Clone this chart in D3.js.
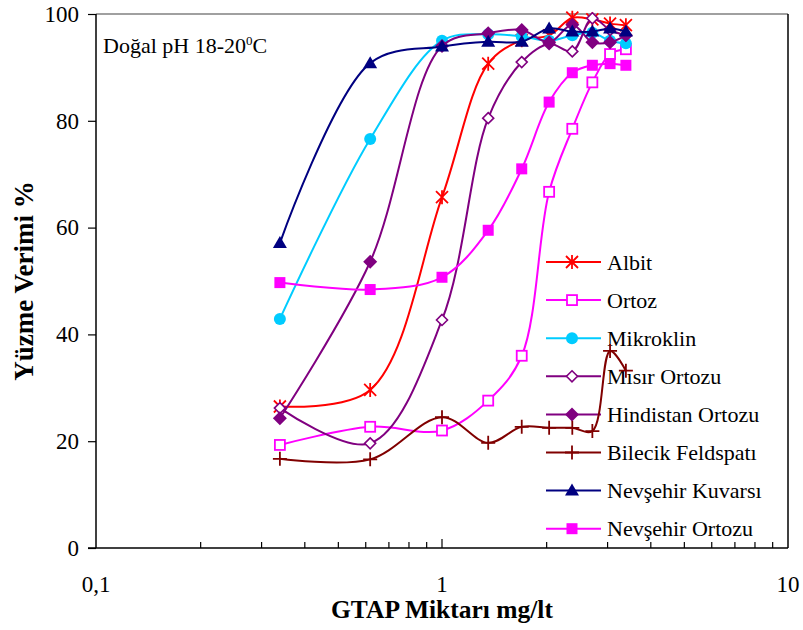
<!DOCTYPE html>
<html><head><meta charset="utf-8">
<script src="https://cdn.jsdelivr.net/npm/d3@7"></script>
<style>body{margin:0;background:#fff}svg{display:block}</style>
</head><body>
<script>
const xValues = [0.34, 0.62, 1.0, 1.36, 1.7, 2.04, 2.38, 2.72, 3.06, 3.4];
const albit = [26.5, 29.6, 65.7, 90.7, 95.1, 96.0, 99.3, 99.0, 98.2, 97.9];
const ortoz = [19.3, 22.7, 22.0, 27.6, 36.0, 66.7, 78.5, 87.2, 92.5, 93.4];
const mikroklin = [42.9, 76.6, 95.0, 96.2, 95.8, 95.0, 96.0, 96.5, 95.0, 94.5];
const misirOrtozu = [26.2, 19.6, 42.7, 80.5, 91.0, 94.4, 93.0, 99.2, 97.0, 96.0];
const hindistanOrtozu = [24.3, 53.6, 94.0, 96.4, 97.0, 94.7, 98.0, 94.7, 94.7, 96.0];
const bilecikFeldspati = [16.7, 16.6, 24.5, 19.7, 22.7, 22.5, 22.5, 21.9, 36.9, 33.2];
const nevsehirKuvarsi = [57.1, 90.8, 93.9, 94.8, 94.8, 97.3, 96.7, 96.7, 97.3, 96.7];
const nevsehirOrtozu = [49.7, 48.4, 50.7, 59.5, 71.0, 83.5, 89.0, 90.4, 90.7, 90.4];
const seriesNames = ["Albit","Ortoz","Mikroklin","Mısır Ortozu","Hindistan Ortozu","Bilecik Feldspatı","Nevşehir Kuvarsı","Nevşehir Ortozu"];
const yTicks = [0, 20, 40, 60, 80, 100];
const xTickLabels = [[0.1, "0,1"], [1, "1"], [10, "10"]];

const series = [
  {name: seriesNames[0], values: albit, color: "#FF0000", marker: "asterisk"},
  {name: seriesNames[1], values: ortoz, color: "#FF00FF", marker: "squareOpen"},
  {name: seriesNames[2], values: mikroklin, color: "#00CCFF", marker: "circle"},
  {name: seriesNames[3], values: misirOrtozu, color: "#800080", marker: "diamondOpen"},
  {name: seriesNames[4], values: hindistanOrtozu, color: "#800080", marker: "diamond"},
  {name: seriesNames[5], values: bilecikFeldspati, color: "#800000", marker: "plus"},
  {name: seriesNames[6], values: nevsehirKuvarsi, color: "#000080", marker: "triangle"},
  {name: seriesNames[7], values: nevsehirOrtozu, color: "#FF00FF", marker: "square"}
];

const W = 803, H = 630;
const svg = d3.select("body").append("svg").attr("width", W).attr("height", H);
const pL = 96, pR = 788, pT = 14, pB = 548;
const x = d3.scaleLog().domain([0.1, 10]).range([pL, pR]);
const y = d3.scaleLinear().domain([0, 100]).range([pB, pT]);
const serif = "'Liberation Serif','Times New Roman',serif";

// frame
svg.append("line").attr("x1", pL).attr("x2", pR).attr("y1", pT).attr("y2", pT).attr("stroke", "#808080").attr("stroke-width", 1.5);
svg.append("line").attr("x1", pR).attr("x2", pR).attr("y1", pT).attr("y2", pB).attr("stroke", "#000").attr("stroke-width", 1.5);

// y axis
const yAxis = d3.axisLeft(y).tickValues(yTicks).tickSize(8).tickFormat(d3.format("d"));
const gy = svg.append("g").attr("transform", `translate(${pL},0)`).call(yAxis);
gy.select(".domain").attr("stroke", "#000").attr("stroke-width", 1.5).attr("d", `M0,${pT}V${pB}`);
gy.selectAll(".tick line").attr("stroke", "#000").attr("stroke-width", 1.2);
gy.selectAll(".tick text").attr("font-family", serif).attr("font-size", 23).attr("fill", "#000").attr("x", -17);

// x axis
const minor = [];
[0.1, 1].forEach(d => { for (let k = 2; k <= 9; k++) minor.push(d * k); });
const xAxis = d3.axisTop(x).tickValues(minor).tickSize(6).tickFormat("");
const gx = svg.append("g").attr("transform", `translate(0,${pB})`).call(xAxis);
gx.select(".domain").attr("stroke", "#000").attr("stroke-width", 1.5).attr("d", `M${pL - 8},0H${pR}`);
gx.selectAll(".tick line").attr("stroke", "#000").attr("stroke-width", 1.2);
svg.append("line").attr("x1", x(1)).attr("x2", x(1)).attr("y1", pB).attr("y2", pB - 9).attr("stroke", "#000").attr("stroke-width", 1.2);
svg.append("g").selectAll("text").data(xTickLabels).join("text")
  .attr("x", d => x(d[0])).attr("y", 592).attr("text-anchor", "middle")
  .attr("font-family", serif).attr("font-size", 23).text(d => d[1]);

// titles
svg.append("text").attr("x", 442).attr("y", 618).attr("text-anchor", "middle")
  .attr("font-family", serif).attr("font-weight", "bold").attr("font-size", 25.5).text("GTAP Miktarı mg/lt");
svg.append("text").attr("transform", "translate(33,281) rotate(-90)").attr("text-anchor", "middle")
  .attr("font-family", serif).attr("font-weight", "bold").attr("font-size", 27).text("Yüzme Verimi %");

const ann = svg.append("text").attr("x", 103).attr("y", 53).attr("font-family", serif).attr("font-size", 22);
ann.append("tspan").text("Doğal pH 18-20");
ann.append("tspan").attr("font-size", 13).attr("dy", -8).text("0");
ann.append("tspan").attr("dy", 8).text("C");

function drawMarker(g, type, color, cx, cy) {
  const s = 6;
  if (type === "asterisk") {
    g.append("path").attr("d", `M${cx - s},${cy - s}L${cx + s},${cy + s}M${cx - s},${cy + s}L${cx + s},${cy - s}M${cx},${cy - s - 1}L${cx},${cy + s + 1}`)
      .attr("stroke", color).attr("stroke-width", 1.8).attr("fill", "none");
  } else if (type === "plus") {
    g.append("path").attr("d", `M${cx - s - 1},${cy}L${cx + s + 1},${cy}M${cx},${cy - s - 1}L${cx},${cy + s + 1}`)
      .attr("stroke", color).attr("stroke-width", 1.8).attr("fill", "none");
  } else if (type === "squareOpen") {
    g.append("rect").attr("x", cx - 5).attr("y", cy - 5).attr("width", 10).attr("height", 10)
      .attr("fill", "#fff").attr("stroke", color).attr("stroke-width", 1.8);
  } else if (type === "square") {
    g.append("rect").attr("x", cx - 5.5).attr("y", cy - 5.5).attr("width", 11).attr("height", 11).attr("fill", color);
  } else if (type === "circle") {
    g.append("circle").attr("cx", cx).attr("cy", cy).attr("r", 6).attr("fill", color);
  } else if (type === "diamondOpen") {
    g.append("path").attr("d", `M${cx},${cy - 5.5}L${cx + 5.5},${cy}L${cx},${cy + 5.5}L${cx - 5.5},${cy}Z`)
      .attr("fill", "#fff").attr("stroke", color).attr("stroke-width", 1.6);
  } else if (type === "diamond") {
    g.append("path").attr("d", `M${cx},${cy - 7}L${cx + 7},${cy}L${cx},${cy + 7}L${cx - 7},${cy}Z`).attr("fill", color);
  } else if (type === "triangle") {
    g.append("path").attr("d", `M${cx},${cy - 7}L${cx + 7},${cy + 5}L${cx - 7},${cy + 5}Z`).attr("fill", color);
  }
}

// legend
const lg = svg.append("g");
series.forEach((s, i) => {
  const ly = 262 + i * 38.1;
  lg.append("line").attr("x1", 546).attr("x2", 601).attr("y1", ly).attr("y2", ly).attr("stroke", s.color).attr("stroke-width", 2);
  drawMarker(lg, s.marker, s.color, 572, ly);
  lg.append("text").attr("x", 607).attr("y", ly).attr("dy", "0.35em").attr("font-family", serif).attr("font-size", 22).text(s.name);
});

// series
const line = d3.line().x(d => x(d[0])).y(d => y(d[1])).curve(d3.curveCatmullRom.alpha(0.5));
series.forEach(s => {
  const pts = xValues.map((xv, i) => [xv, s.values[i]]);
  const g = svg.append("g");
  g.append("path").attr("d", line(pts)).attr("fill", "none").attr("stroke", s.color).attr("stroke-width", 2);
  pts.forEach(p => drawMarker(g, s.marker, s.color, x(p[0]), y(p[1])));
});
</script>
</body></html>
